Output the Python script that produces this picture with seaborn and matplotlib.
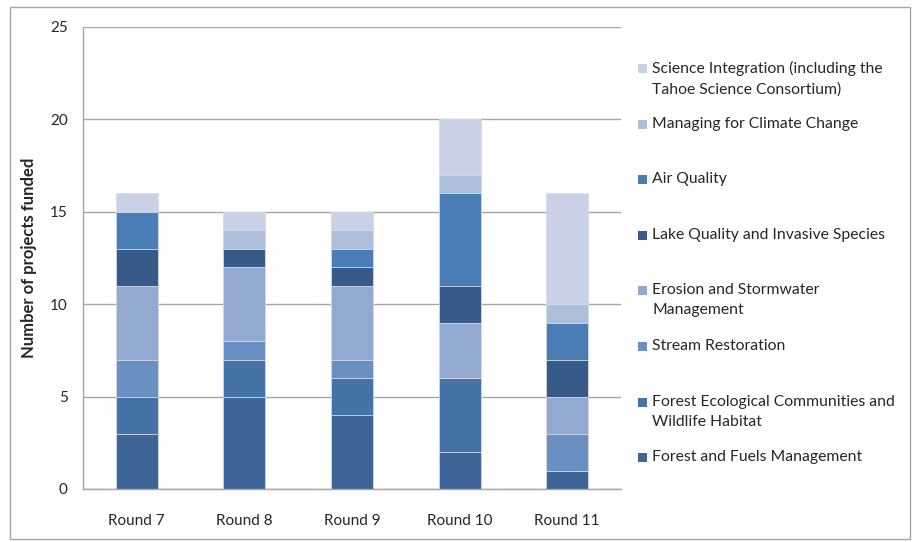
import pandas as pd
import seaborn as sns
import matplotlib.pyplot as plt
from matplotlib.patches import Rectangle

# Data
rounds = ["Round 7", "Round 8", "Round 9", "Round 10", "Round 11"]

# stack order, bottom to top
categories = [
    "Forest and Fuels Management",
    "Forest Ecological Communities and\nWildlife Habitat",
    "Stream Restoration",
    "Erosion and Stormwater\nManagement",
    "Lake Quality and Invasive Species",
    "Air Quality",
    "Managing for Climate Change",
    "Science Integration (including the\nTahoe Science Consortium)",
]
forest_fuels = [3, 5, 4, 2, 1]
forest_eco = [2, 2, 2, 4, 0]
stream = [2, 1, 1, 0, 2]
erosion = [4, 4, 4, 3, 2]
lake = [2, 1, 1, 2, 2]
air = [2, 0, 1, 5, 2]
climate = [0, 1, 1, 1, 1]
science = [1, 1, 1, 3, 6]

colors = ["#3E6597", "#4572A7", "#6A8FC3", "#94A9D0",
          "#375A88", "#4A7CB5", "#AEBFDA", "#C8D1E5"]

df = pd.DataFrame(
    [forest_fuels, forest_eco, stream, erosion, lake, air, climate, science],
    index=categories, columns=rounds,
).T
cum = df.cumsum(axis=1)

sns.set_style("white")
plt.rcParams["font.family"] = ["Lato", "DejaVu Sans"]

fig = plt.figure(figsize=(9.17, 5.42), dpi=100)
W, H = 917, 542
ax = fig.add_axes([83 / W, 53 / H, 538 / W, 462 / H])

# draw cumulative totals from the top layer down so each layer covers the one above
for cat, col in reversed(list(zip(categories, colors))):
    sns.barplot(x=rounds, y=cum[cat].values, color=col, saturation=1,
                width=0.39, edgecolor="#D5DCEA", linewidth=0.6, ax=ax)

grey = "#A6A6A6"
ax.set_ylim(0, 25)
ax.set_xlim(-0.5, 4.5)
ax.set_yticks(range(0, 26, 5))
ax.yaxis.grid(True, color=grey, linewidth=1)
ax.set_axisbelow(True)
for s in ["top", "right"]:
    ax.spines[s].set_visible(False)
for s in ["left", "bottom"]:
    ax.spines[s].set_color(grey)
    ax.spines[s].set_linewidth(1)

ax.set_xticks(range(len(rounds)), rounds)
ax.set_xticks([i - 0.5 for i in range(len(rounds) + 1)], minor=True)
ax.tick_params(axis="x", which="major", length=0, pad=18, labelsize=11)
ax.tick_params(axis="x", which="minor", length=5, color=grey, direction="out")
ax.tick_params(axis="y", length=5, color=grey, direction="out", pad=6, labelsize=11)
ax.set_xlabel("")
ax.set_ylabel("Number of projects funded", fontsize=12, fontweight="bold", labelpad=9)

# legend, top entry first (Excel-style layout)
for i, (cat, col) in enumerate(reversed(list(zip(categories, colors)))):
    yc = 68 + 55.6 * i
    fig.add_artist(Rectangle((638 / W, 1 - (yc + 5) / H), 9 / W, 9 / H,
                             transform=fig.transFigure, facecolor=col,
                             edgecolor="none"))
    fig.text(652 / W, 1 - (yc - 7) / H, cat, fontsize=11.3, va="top", ha="left",
             linespacing=1.55)

# chart border
fig.add_artist(Rectangle((10 / W, 3 / H), 900 / W, 532 / H,
                         transform=fig.transFigure, fill=False,
                         edgecolor="#A6A6A6", linewidth=1))

fig.savefig("out.png", dpi=100)
